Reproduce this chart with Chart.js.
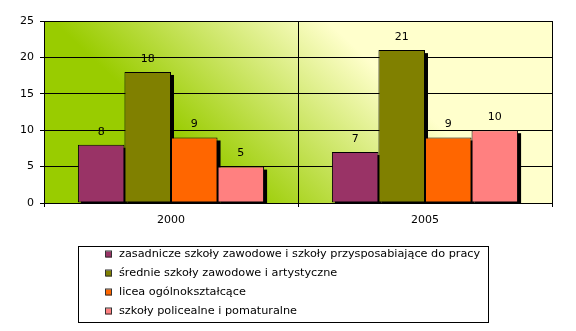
<!DOCTYPE html>
<html>
<head>
<meta charset="utf-8">
<script src="https://cdn.jsdelivr.net/npm/chart.js@4"></script>
<style>
  html, body { margin: 0; padding: 0; background: #fff; }
  #wrap { width: 576px; height: 331px; }
</style>
</head>
<body>
<div id="wrap"><canvas id="chart1"></canvas></div>
<script>
// lata i dane
const years = ['2000', '2005'];
const zasadnicze = [8, 7];
const srednie = [18, 21];
const licea = [9, 9];
const policealne = [5, 10];

const seriesNames = [
  'zasadnicze szkoły zawodowe i szkoły przysposabiające do pracy',
  'średnie szkoły zawodowe i artystyczne',
  'licea ogólnokształcące',
  'szkoły policealne i pomaturalne',
];
const seriesValues = [zasadnicze, srednie, licea, policealne];
const colors = ['#993366', '#808000', '#FF6600', '#FF8080'];

const yMin = 0;
const yMax = 25;
const yStep = 5;

const FONT = 'DejaVu Sans';

const datasets = seriesValues.map(function (values, i) {
  return {
    label: seriesNames[i],
    data: values,
    backgroundColor: colors[i],
    borderColor: '#000',
    borderWidth: 1,
    borderSkipped: false,
    barPercentage: 1,
    categoryPercentage: 0.733,
  };
});

// tło obszaru wykresu - gradient ukośny
const plotBackground = {
  id: 'plotBackground',
  beforeDraw(chart) {
    const a = chart.chartArea;
    const c = chart.ctx;
    const g = c.createLinearGradient(14, -15, 142, -152);
    g.addColorStop(0, '#99CC00');
    g.addColorStop(1, '#FFFFCC');
    c.save();
    c.fillStyle = g;
    c.fillRect(a.left, a.top, a.right - a.left, a.bottom - a.top);
    c.restore();
  },
};

// cień za słupkami
const barShadow = {
  id: 'barShadow',
  beforeDatasetsDraw(chart) {
    const a = chart.chartArea;
    const c = chart.ctx;
    c.save();
    c.beginPath();
    c.rect(a.left, a.top, a.right - a.left, a.bottom - a.top);
    c.clip();
    c.fillStyle = '#000';
    chart.data.datasets.forEach(function (ds, i) {
      chart.getDatasetMeta(i).data.forEach(function (bar) {
        const w = bar.width;
        c.fillRect(bar.x - w / 2 + 3, bar.y + 3, w, bar.base - bar.y);
      });
    });
    c.restore();
  },
};

// wartości nad słupkami
const valueLabels = {
  id: 'valueLabels',
  afterDatasetsDraw(chart) {
    const c = chart.ctx;
    c.save();
    c.font = '11px "' + FONT + '"';
    c.fillStyle = '#000';
    c.textAlign = 'center';
    c.textBaseline = 'middle';
    chart.data.datasets.forEach(function (ds, i) {
      chart.getDatasetMeta(i).data.forEach(function (bar, j) {
        c.fillText(String(ds.data[j]), bar.x, bar.y - 13);
      });
    });
    c.restore();
  },
};

// legenda w ramce pod wykresem
const boxLegend = {
  id: 'boxLegend',
  afterDraw(chart) {
    const c = chart.ctx;
    const left = 78.5, top = 246.5, width = 410, height = 76;
    c.save();
    c.fillStyle = '#fff';
    c.fillRect(left, top, width, height);
    c.strokeStyle = '#000';
    c.lineWidth = 1;
    c.strokeRect(left, top, width, height);
    c.font = '11.25px "' + FONT + '"';
    c.textBaseline = 'middle';
    chart.data.datasets.forEach(function (ds, i) {
      const y = 254.5 + i * 19;
      c.fillStyle = ds.backgroundColor;
      c.fillRect(106, y - 3, 6, 6);
      c.strokeStyle = '#333';
      c.strokeRect(105.5, y - 3.5, 6, 6);
      c.fillStyle = '#000';
      c.fillText(ds.label, 119, y);
    });
    c.restore();
  },
};

new Chart(document.getElementById('chart1'), {
  type: 'bar',
  data: { labels: years, datasets: datasets },
  plugins: [plotBackground, barShadow, valueLabels, boxLegend],
  options: {
    responsive: true,
    maintainAspectRatio: false,
    animation: false,
    layout: { padding: { left: 0, right: 24, top: 21, bottom: 98 } },
    plugins: {
      legend: { display: false },
      tooltip: { enabled: false },
    },
    scales: {
      x: {
        offset: true,
        grid: {
          offset: true,
          color: '#000',
          lineWidth: 1,
          tickLength: 4,
        },
        border: { color: '#000', width: 1 },
        ticks: {
          color: '#000',
          padding: 7,
          font: { family: FONT, size: 11 },
        },
        afterFit(scale) { scale.height = 30; },
      },
      y: {
        min: yMin,
        max: yMax,
        grid: {
          color: '#000',
          lineWidth: 1,
          tickLength: 4,
        },
        border: { color: '#000', width: 1 },
        ticks: {
          stepSize: yStep,
          color: '#000',
          padding: 6,
          font: { family: FONT, size: 11 },
        },
        afterFit(scale) { scale.width = 44; },
      },
    },
  },
});
</script>
</body>
</html>
